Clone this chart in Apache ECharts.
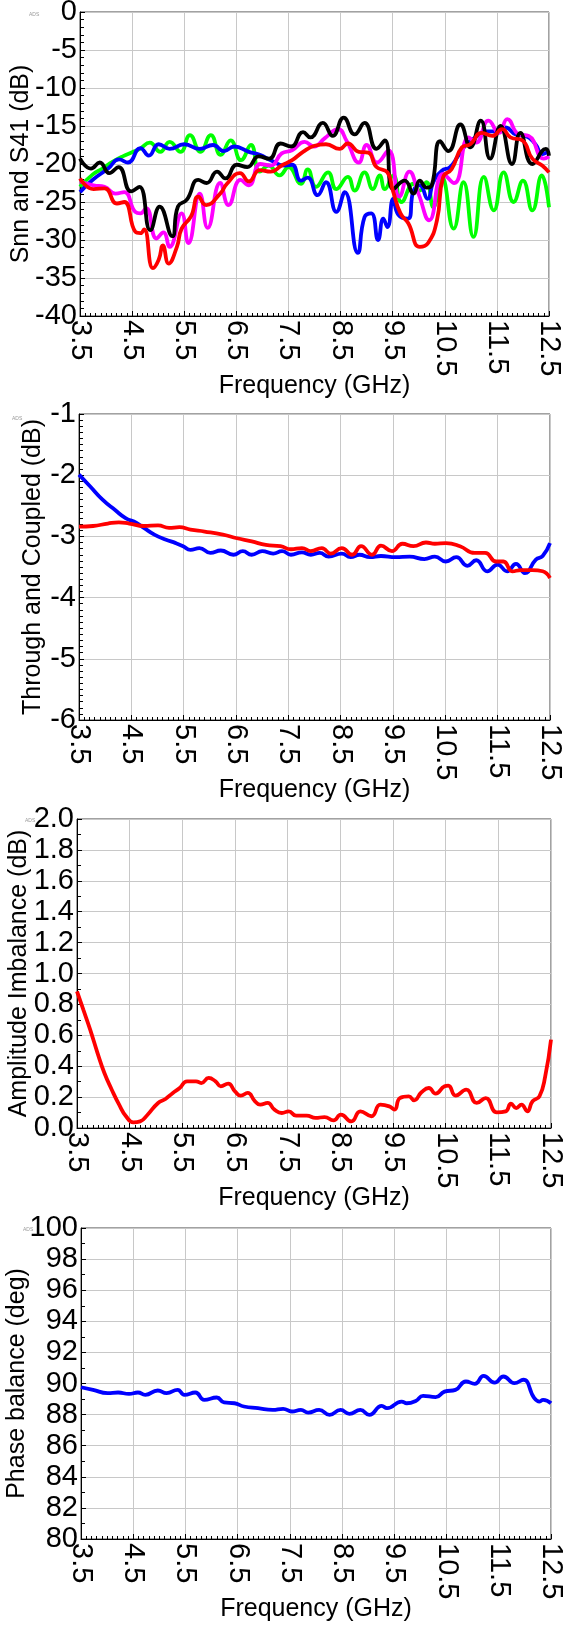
<!DOCTYPE html>
<html><head><meta charset="utf-8">
<script src="https://cdn.jsdelivr.net/npm/echarts@6/dist/echarts.min.js"></script>
<style>html,body{margin:0;padding:0;background:#fff}#c{width:563px;height:1626px}</style>
</head><body><div id="c"></div>
<script>
// ---------- Chart 1: Snn and S41 (dB) ----------
const greenF = [3.5,3.74,3.93,4.13,4.32,4.52,4.65,4.84,5.04,5.22,5.43,5.61,5.81,6.01,6.2,6.39,6.59,6.78,6.95,7.12,7.33,7.5,7.74,7.87,8.03,8.26,8.42,8.64,8.77,8.96,9.12,9.25,9.35,9.51,9.67,9.9,10.02,10.15,10.28,10.44,10.67,10.86,11.05,11.25,11.44,11.63,11.82,12.0,12.18,12.36,12.5];
const greenDb = [-23.0,-21.4,-20.6,-19.7,-19.0,-18.4,-18.0,-17.2,-18.4,-17.1,-18.4,-16.2,-18.4,-16.2,-18.8,-16.9,-19.5,-17.5,-21.0,-20.2,-21.5,-20.4,-22.6,-20.7,-23.0,-21.1,-23.3,-21.7,-23.5,-21.1,-23.3,-21.5,-23.3,-21.5,-25.0,-22.6,-23.5,-22.4,-25.7,-21.7,-28.5,-22.4,-29.6,-21.7,-26.1,-21.1,-25.0,-22.2,-26.1,-21.5,-25.7];

const blueF = [3.5,3.74,4.04,4.25,4.42,4.66,4.82,5.01,5.22,5.5,5.8,6.05,6.26,6.46,6.74,6.95,7.16,7.43,7.57,7.74,7.87,8.06,8.22,8.42,8.58,8.83,8.96,9.09,9.22,9.32,9.4,9.51,9.61,9.79,9.9,10.02,10.17,10.28,10.44,10.6,10.76,10.92,11.09,11.28,11.47,11.66,11.86,12.05,12.24,12.37,12.5];
const blueDb = [-23.7,-22.1,-20.6,-19.4,-19.8,-17.9,-18.9,-17.4,-18.0,-17.4,-18.0,-17.5,-18.3,-17.7,-18.4,-18.8,-19.5,-20.2,-20.1,-22.2,-21.8,-24.1,-22.4,-26.3,-23.7,-31.7,-27.0,-26.5,-30.0,-27.2,-28.3,-24.6,-26.7,-27.2,-23.5,-22.8,-24.6,-22.4,-20.9,-20.4,-18.9,-17.4,-16.5,-15.7,-15.7,-15.2,-16.1,-16.3,-17.4,-18.7,-18.3];

const magF = [3.5,3.76,3.97,4.18,4.35,4.56,4.66,4.77,4.97,5.1,5.22,5.45,5.58,5.8,5.95,6.19,6.35,6.58,6.74,6.96,7.16,7.37,7.57,7.81,7.99,8.2,8.45,8.62,8.85,9.0,9.2,9.42,9.63,9.82,10.0,10.2,10.47,10.68,10.96,11.1,11.34,11.54,11.7,11.92,12.11,12.4,12.5];
const magDb = [-22.3,-22.8,-23.0,-23.9,-23.7,-26.3,-26.5,-25.8,-29.8,-29.0,-30.9,-26.5,-30.4,-23.9,-28.4,-22.5,-25.4,-22.1,-22.8,-20.0,-20.2,-18.6,-18.2,-17.1,-17.7,-16.6,-15.4,-17.0,-19.8,-17.5,-19.8,-18.2,-24.3,-21.0,-24.0,-27.4,-21.3,-22.5,-16.5,-17.2,-14.3,-15.9,-14.1,-16.1,-16.3,-19.3,-19.0];

const blackF = [3.5,3.71,3.88,4.06,4.24,4.48,4.64,4.85,5.03,5.27,5.38,5.55,5.77,5.93,6.13,6.29,6.51,6.71,6.93,7.13,7.35,7.55,7.78,7.92,8.16,8.35,8.56,8.77,8.96,9.19,9.35,9.51,9.73,9.9,10.02,10.15,10.25,10.41,10.57,10.8,10.99,11.19,11.37,11.57,11.79,11.95,12.18,12.44,12.5];
const blackDb = [-19.3,-20.6,-19.8,-21.2,-20.4,-23.6,-23.0,-28.7,-25.6,-29.5,-25.6,-24.7,-22.1,-22.5,-21.0,-21.9,-20.1,-20.4,-19.0,-19.3,-17.3,-17.7,-15.8,-16.5,-14.6,-16.3,-13.9,-16.1,-14.6,-18.0,-16.9,-23.3,-22.2,-23.9,-22.2,-23.1,-22.8,-17.0,-18.3,-14.8,-17.8,-14.3,-19.3,-15.0,-20.0,-15.9,-20.0,-18.0,-18.9];

const redF = [3.5,3.76,3.97,4.21,4.35,4.56,4.66,4.73,4.9,5.01,5.09,5.2,5.36,5.45,5.63,5.77,5.92,6.19,6.32,6.57,6.74,6.95,7.16,7.37,7.57,7.78,8.0,8.22,8.48,8.64,8.85,9.03,9.19,9.4,9.5,9.65,9.8,10.02,10.18,10.35,10.47,10.63,10.83,10.99,11.21,11.41,11.6,11.76,11.99,12.18,12.37,12.5];
const redDb = [-21.9,-23.3,-23.2,-25.2,-25.0,-28.9,-29.1,-28.6,-33.7,-32.6,-30.7,-33.1,-30.9,-28.5,-26.9,-24.3,-25.4,-23.9,-22.6,-21.2,-22.3,-20.8,-21.0,-20.2,-19.5,-18.4,-17.6,-17.4,-18.0,-17.3,-18.4,-18.5,-20.4,-21.1,-23.4,-26.5,-27.8,-30.9,-30.4,-27.4,-21.7,-20.7,-17.8,-17.4,-15.9,-16.3,-15.4,-16.5,-16.9,-19.3,-20.2,-21.1];

// ---------- Chart 2: Through and Coupled (dB) ----------
const thruF = [3.5,3.71,3.95,4.19,4.39,4.6,4.74,4.94,5.15,5.35,5.49,5.63,5.8,6.01,6.21,6.45,6.63,6.8,7.0,7.21,7.38,7.55,7.76,7.93,8.1,8.27,8.52,8.69,8.86,9.06,9.27,9.55,9.82,10.1,10.3,10.51,10.71,10.92,11.09,11.3,11.5,11.68,11.85,12.02,12.23,12.36,12.5];
const thruDb = [-1.99,-2.18,-2.40,-2.57,-2.70,-2.78,-2.86,-2.97,-3.05,-3.11,-3.16,-3.22,-3.19,-3.27,-3.23,-3.30,-3.24,-3.30,-3.24,-3.28,-3.24,-3.30,-3.26,-3.30,-3.27,-3.33,-3.28,-3.34,-3.30,-3.34,-3.32,-3.34,-3.33,-3.37,-3.33,-3.41,-3.34,-3.48,-3.39,-3.57,-3.46,-3.57,-3.45,-3.60,-3.38,-3.32,-3.11];
const coupF = [3.5,3.77,4.05,4.26,4.46,4.74,5.01,5.22,5.42,5.63,5.9,6.25,6.52,6.8,7.07,7.35,7.55,7.76,7.93,8.14,8.31,8.52,8.72,8.89,9.1,9.27,9.48,9.68,9.89,10.13,10.3,10.51,10.78,11.06,11.26,11.47,11.61,11.78,11.95,12.16,12.36,12.5];
const coupDb = [-2.84,-2.83,-2.79,-2.77,-2.79,-2.83,-2.82,-2.86,-2.85,-2.89,-2.92,-2.97,-3.03,-3.08,-3.14,-3.16,-3.21,-3.19,-3.24,-3.19,-3.28,-3.19,-3.30,-3.16,-3.30,-3.15,-3.24,-3.12,-3.16,-3.10,-3.12,-3.11,-3.16,-3.27,-3.27,-3.41,-3.41,-3.57,-3.55,-3.55,-3.57,-3.68];

// ---------- Chart 3: Amplitude Imbalance (dB) ----------
const ampF = [3.5,3.62,3.75,3.89,4.02,4.16,4.3,4.43,4.57,4.7,4.84,5.04,5.18,5.32,5.45,5.59,5.76,5.86,6.0,6.13,6.23,6.37,6.5,6.61,6.74,6.88,6.98,7.12,7.25,7.39,7.52,7.66,7.86,8.03,8.2,8.37,8.51,8.71,8.88,9.09,9.26,9.43,9.53,9.63,9.8,9.9,10.04,10.18,10.31,10.48,10.55,10.69,10.89,11.09,11.26,11.47,11.64,11.74,11.84,11.94,12.05,12.15,12.28,12.39,12.5];
const ampDb = [0.885,0.766,0.637,0.485,0.356,0.248,0.151,0.076,0.037,0.043,0.086,0.162,0.188,0.227,0.259,0.302,0.302,0.291,0.324,0.302,0.270,0.287,0.237,0.209,0.227,0.173,0.151,0.162,0.119,0.097,0.108,0.080,0.080,0.065,0.071,0.050,0.086,0.043,0.108,0.076,0.151,0.140,0.119,0.194,0.205,0.179,0.231,0.259,0.222,0.270,0.274,0.209,0.248,0.162,0.194,0.101,0.108,0.157,0.129,0.151,0.108,0.173,0.205,0.334,0.572];

// ---------- Chart 4: Phase balance (deg) ----------
const phF = [3.5,3.73,4.01,4.21,4.42,4.59,4.73,4.97,5.14,5.35,5.48,5.69,5.86,6.1,6.24,6.44,6.62,6.89,7.17,7.37,7.54,7.71,7.85,8.06,8.26,8.47,8.64,8.85,9.02,9.26,9.36,9.64,9.74,9.91,10.05,10.29,10.46,10.67,10.87,11.04,11.21,11.42,11.59,11.8,11.97,12.18,12.28,12.35,12.5];
const phDeg = [89.76,89.59,89.38,89.42,89.33,89.42,89.27,89.55,89.38,89.59,89.27,89.42,88.95,89.10,88.78,88.73,88.52,88.41,88.30,88.37,88.20,88.30,88.13,88.30,87.98,88.30,88.05,88.30,87.98,88.56,88.41,88.84,88.73,88.88,89.21,89.12,89.48,89.59,90.13,89.98,90.49,90.06,90.45,90.02,90.24,89.06,88.84,88.95,88.73];

const freqTicks = {min: 3.5, max: 12.5, step: 1};
const FONT = '"Liberation Sans", Arial, sans-serif';
const LABEL_SIZE = 29;
const NAME_SIZE = 25;

function zip(a, b) { return a.map((v, i) => [v, b[i]]); }

const grids = [
  {left: 80, top: 12, width: 469, height: 304},
  {left: 79, top: 414, width: 471, height: 306},
  {left: 77, top: 819, width: 474, height: 309},
  {left: 81, top: 1228, width: 470, height: 311}
];
const yCfg = [
  {name: 'Snn and S41 (dB)', min: -40, max: 0, interval: 5, minor: 5, gap: 46, fmt: null},
  {name: 'Through and Coupled (dB)', min: -6, max: -1, interval: 1, minor: 10, gap: 33, fmt: null},
  {name: 'Amplitude Imbalance (dB)', min: 0, max: 2, interval: 0.2, minor: 2, gap: 45, fmt: v => v.toFixed(1)},
  {name: 'Phase balance (deg)', min: 80, max: 100, interval: 2, minor: 2, gap: 51, fmt: null}
];

const gridLine = {show: true, lineStyle: {color: '#c8c8c8', width: 1}};
const xAxes = grids.map((g, i) => ({
  type: 'value', gridIndex: i, min: freqTicks.min, max: freqTicks.max, interval: freqTicks.step,
  name: 'Frequency (GHz)', nameLocation: 'middle', nameGap: 58, nameMoveOverlap: false,
  nameTextStyle: {fontSize: NAME_SIZE, color: '#000', fontFamily: FONT},
  axisLine: {show: true, onZero: false, lineStyle: {color: '#000', width: 1}},
  axisTick: {show: true, inside: true, length: 5, lineStyle: {color: '#000'}},
  minorTick: {show: true, splitNumber: 10, length: 3, lineStyle: {color: '#000', width: 1}},
  axisLabel: {rotate: -90, fontSize: LABEL_SIZE, color: '#000', fontFamily: FONT, margin: 4},
  splitLine: gridLine
}));
const yAxes = yCfg.map((c, i) => ({
  type: 'value', gridIndex: i, min: c.min, max: c.max, interval: c.interval,
  name: c.name, nameLocation: 'middle', nameGap: c.gap, nameMoveOverlap: false,
  nameTextStyle: {fontSize: NAME_SIZE, color: '#000', fontFamily: FONT},
  axisLine: {show: true, onZero: false, lineStyle: {color: '#000', width: 1}},
  axisTick: {show: true, inside: true, length: 5, lineStyle: {color: '#000'}},
  minorTick: {show: true, splitNumber: c.minor, length: 4, lineStyle: {color: '#000', width: 1}},
  axisLabel: {fontSize: LABEL_SIZE, color: '#000', fontFamily: FONT, margin: 3, formatter: c.fmt || undefined},
  splitLine: gridLine
}));

function line(gi, data, color) {
  return {
    type: 'line', xAxisIndex: gi, yAxisIndex: gi, data: data, smooth: 0.5,
    showSymbol: false, symbol: 'none', clip: true,
    lineStyle: {color: color, width: 3.8}, itemStyle: {color: color}
  };
}

const series = [
  line(0, zip(greenF, greenDb), '#00ff00'),
  line(0, zip(blueF, blueDb), '#0000ff'),
  line(0, zip(magF, magDb), '#ff00ff'),
  line(0, zip(blackF, blackDb), '#000000'),
  line(0, zip(redF, redDb), '#ff0000'),
  line(1, zip(thruF, thruDb), '#0000ff'),
  line(1, zip(coupF, coupDb), '#ff0000'),
  line(2, zip(ampF, ampDb), '#ff0000'),
  line(3, zip(phF, phDeg), '#0000ff')
];

const adsPos = [[29, 12], [12, 416], [25, 818], [23, 1227]];
const graphic = adsPos.map(p => ({
  type: 'text', x: p[0], y: p[1],
  style: {text: 'ADS', fontSize: 5, fill: '#999', fontFamily: FONT}
}));

const chart = echarts.init(document.getElementById('c'), null, {renderer: 'canvas'});
chart.setOption({
  animation: false,
  backgroundColor: '#fff',
  grid: grids.map(g => Object.assign({show: true, borderColor: '#444', borderWidth: 1, backgroundColor: 'transparent', outerBoundsMode: 'none'}, g)),
  xAxis: xAxes,
  yAxis: yAxes,
  series: series,
  graphic: graphic
});
</script></body></html>
